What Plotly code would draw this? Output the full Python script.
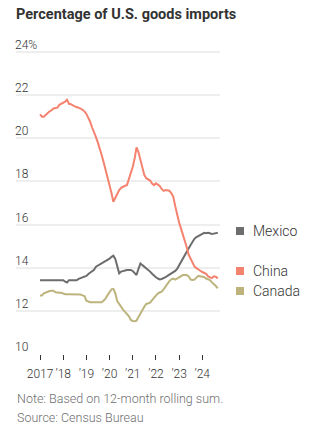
import pandas as pd
import plotly.graph_objects as go

# Monthly share of U.S. goods imports (%), Jan 2017 - Sep 2024
months = pd.date_range("2017-01-01", periods=93, freq="MS")

china = [
    21.11, 21.0, 21.0, 21.1, 21.2, 21.25, 21.3, 21.38, 21.4, 21.42, 21.55, 21.6,
    21.65, 21.7, 21.79, 21.6, 21.58, 21.52, 21.48, 21.45, 21.42, 21.38, 21.32, 21.25,
    21.13, 20.95, 20.77, 20.5, 20.3, 20.05, 19.8, 19.54, 19.2, 18.88, 18.55, 18.2,
    17.85, 17.45, 17.06, 17.25, 17.45, 17.6, 17.7, 17.76, 17.8, 17.83, 18.1, 18.45,
    18.68, 19.1, 19.58, 19.35, 18.99, 18.6, 18.3, 18.15, 18.1, 18.04, 17.9, 17.83,
    17.91, 17.85, 17.79, 17.65, 17.56, 17.6, 17.6, 17.57, 17.45, 17.29, 16.85, 16.4,
    16.1, 15.8, 15.55, 15.2, 14.95, 14.6, 14.4, 14.2, 14.05, 13.98, 13.9, 13.86,
    13.8, 13.75, 13.72, 13.6, 13.55, 13.52, 13.6, 13.58, 13.5,
]

mexico = [
    13.42, 13.42, 13.42, 13.42, 13.42, 13.42, 13.42, 13.42, 13.42, 13.42, 13.42, 13.42,
    13.42, 13.35, 13.31, 13.42, 13.42, 13.42, 13.42, 13.42, 13.48, 13.51, 13.55, 13.58,
    13.62, 13.71, 13.76, 13.82, 13.9, 14.05, 14.1, 14.15, 14.2, 14.25, 14.3, 14.35,
    14.42, 14.51, 14.56, 14.4, 14.0, 13.74, 13.82, 13.85, 13.85, 13.89, 13.89, 13.89,
    13.85, 13.75, 13.66, 13.95, 14.2, 14.12, 14.05, 13.98, 13.9, 13.82, 13.72, 13.62,
    13.56, 13.5, 13.46, 13.48, 13.51, 13.56, 13.62, 13.68, 13.75, 13.82, 13.85, 13.95,
    14.1, 14.25, 14.4, 14.55, 14.72, 14.9, 15.05, 15.22, 15.35, 15.42, 15.48, 15.52,
    15.58, 15.62, 15.6, 15.62, 15.6, 15.56, 15.58, 15.6, 15.62,
]

canada = [
    12.7, 12.72, 12.81, 12.85, 12.89, 12.92, 12.93, 12.93, 12.86, 12.84, 12.84, 12.84,
    12.8, 12.77, 12.77, 12.77, 12.77, 12.77, 12.77, 12.77, 12.77, 12.76, 12.72, 12.69,
    12.47, 12.42, 12.4, 12.4, 12.4, 12.4, 12.4, 12.4, 12.4, 12.48, 12.58, 12.73,
    12.85, 13.0, 13.02, 12.81, 12.45, 12.3, 12.19, 12.06, 11.95, 11.85, 11.75, 11.58,
    11.53, 11.52, 11.55, 11.72, 11.89, 12.05, 12.19, 12.32, 12.36, 12.38, 12.5, 12.62,
    12.7, 12.81, 12.85, 12.89, 13.0, 13.12, 13.28, 13.38, 13.46, 13.5, 13.45, 13.5,
    13.58, 13.64, 13.66, 13.66, 13.66, 13.6, 13.45, 13.43, 13.45, 13.55, 13.62, 13.6,
    13.58, 13.56, 13.5, 13.45, 13.43, 13.32, 13.25, 13.15, 13.05,
]

y_ticks = [10, 12, 14, 16, 18, 20, 22, 24]
y_tick_text = ["10", "12", "14", "16", "18", "20", "22", "24%"]
x_ticks = [f"{y}-01-01" for y in range(2017, 2025)]
x_tick_text = ["2017", "’18", "’19", "’20", "’21", "’22", "’23", "’24"]

series = [
    ("Mexico", mexico, "#6d6d6d"),
    ("China", china, "#f4826f"),
    ("Canada", canada, "#bcb47c"),
]

FONT = "Roboto"
TEXT = "#333333"
LIGHT = dict(family=FONT, size=12, color=TEXT, weight=300)

# Plot box in pixels: left 16, right 220, top 37, bottom 354
L, R, T, B = 16, 220, 37, 354
W, H = R - L, B - T
Y_TOP = 10 + H / 21.57  # keeps 2 units = ~43 px


def px_x(x):
    return (x - L) / W


def px_y(y):
    return (B - y) / H


fig = go.Figure()
for name, vals, color in series:
    fig.add_trace(go.Scatter(
        x=months, y=vals, name=name, mode="lines",
        line=dict(color=color, width=2), hoverinfo="skip",
    ))

# Y-axis values sit just above their gridlines, flush with the left edge
for val, txt in zip(y_ticks, y_tick_text):
    fig.add_annotation(text=txt, xref="paper", yref="y", x=0, y=val,
                       xanchor="left", yanchor="bottom", showarrow=False,
                       xshift=-2, yshift=-1, borderpad=0, font=LIGHT)

# Direct labels beside the line ends: colored square + name
label_y = {"Mexico": 231, "China": 271, "Canada": 291}
for name, vals, color in series:
    yc = label_y[name]
    fig.add_shape(type="rect", xref="paper", yref="paper",
                  x0=px_x(236), x1=px_x(244),
                  y0=px_y(yc + 4), y1=px_y(yc - 4),
                  fillcolor=color, line=dict(width=0))
    fig.add_annotation(text=name, xref="paper", yref="paper",
                       x=px_x(251), y=px_y(yc),
                       xanchor="left", yanchor="middle", showarrow=False,
                       font=dict(family=FONT, size=14, color=TEXT, weight=300))

for txt, yc in [("Note: Based on 12-month rolling sum.", 398),
                ("Source: Census Bureau", 417)]:
    fig.add_annotation(text=txt, xref="paper", yref="paper",
                       x=0, y=px_y(yc), xanchor="left", yanchor="middle",
                       xshift=-1, showarrow=False,
                       font=dict(family=FONT, size=12.5, color="#6f6f6f",
                                 weight=300))

fig.update_layout(
    width=325, height=432,
    margin=dict(l=L, r=325 - R, t=T, b=432 - B),
    paper_bgcolor="white", plot_bgcolor="white",
    showlegend=False,
    title=dict(text="<b>Percentage of U.S. goods imports</b>",
               x=16 / 325, xanchor="left", xref="container",
               y=1 - 14 / 432, yanchor="middle", yref="container",
               font=dict(family=FONT, size=14.5, color=TEXT)),
    xaxis=dict(
        type="date", range=["2015-12-19", "2024-10-06"],
        tickvals=x_ticks, ticktext=x_tick_text, tickangle=0,
        ticks="outside", ticklen=5, tickcolor=TEXT, tickwidth=1,
        ticklabelstandoff=4,
        showgrid=False, showline=False, zeroline=False,
        tickfont=LIGHT,
    ),
    yaxis=dict(
        range=[10, Y_TOP], tickvals=y_ticks, showticklabels=False,
        ticks="", showgrid=True, gridcolor="#eeeeee", gridwidth=2,
        zeroline=False, showline=False,
    ),
)

fig.write_html("out.html")
